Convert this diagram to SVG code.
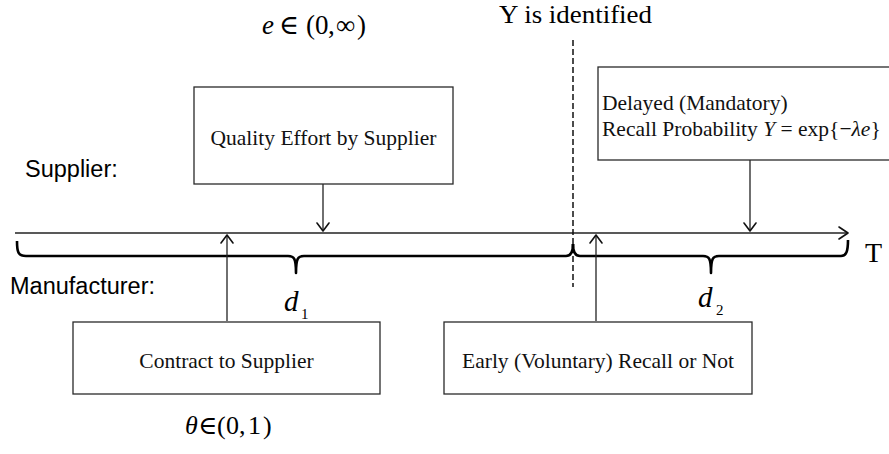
<svg xmlns="http://www.w3.org/2000/svg" width="889" height="454" viewBox="0 0 889 454">
  <defs>
    <style>
      .box { fill: #ffffff; stroke: #2a2a2a; stroke-width: 1.3; }
      .lbl { font-family: "Liberation Serif", "Times New Roman", serif; font-size: 21.5px; fill: #111111; }
      .side { font-family: "Liberation Sans", Arial, sans-serif; font-size: 23.5px; fill: #000000; }
      .math { font-family: "Liberation Serif", "DejaVu Serif", serif; fill: #000000; }
      .conn { fill: none; stroke: #222222; stroke-width: 1.3; }
      .head { fill: none; stroke: #111111; stroke-width: 1.6; stroke-linecap: round; stroke-linejoin: round; }
      .brace { fill: none; stroke: #000000; stroke-width: 2.6; stroke-linejoin: round; }
    </style>
  </defs>

  <!-- side labels -->
  <text class="side" x="25" y="177">Supplier:</text>
  <text class="side" x="10" y="294">Manufacturer:</text>

  <!-- top annotations -->
  <text class="math" x="499" y="23" font-size="25.5" textLength="153" lengthAdjust="spacingAndGlyphs">Y is identified</text>
  <text class="math" y="34" font-size="27"><tspan x="262" font-style="italic">e</tspan><tspan x="279">∈</tspan><tspan x="306">(</tspan><tspan x="315">0</tspan><tspan x="328">,</tspan><tspan x="336">∞</tspan><tspan x="357">)</tspan></text>
  <text class="math" y="434" font-size="26"><tspan x="185" font-style="italic">θ</tspan><tspan x="198">∈</tspan><tspan x="217">(</tspan><tspan x="226">0</tspan><tspan x="239">,</tspan><tspan x="248">1</tspan><tspan x="263">)</tspan></text>
  <text class="math" x="865" y="262" font-size="28">T</text>

  <!-- durations under the braces -->
  <text class="math" x="284" y="311" font-size="29"><tspan font-style="italic">d</tspan><tspan x="301" y="319" font-size="15">1</tspan></text>
  <text class="math" x="698" y="307" font-size="29"><tspan font-style="italic">d</tspan><tspan x="716" y="315" font-size="15">2</tspan></text>

  <!-- connectors -->
  <g id="connectors">
    <!-- time axis -->
    <line class="conn" x1="15" y1="233" x2="848" y2="233" stroke="#444444" stroke-width="1.6"/>
    <polyline class="head" points="839,227 848,233 839,239"/>
    <!-- identification moment -->
    <line x1="573" y1="40" x2="573" y2="287" stroke="#111111" stroke-width="1.5" stroke-dasharray="6,3"/>
    <!-- braces for d1 and d2 -->
    <path class="brace" d="M17,241 C17,252 18,256 26,256 L288,256 C294,256 296,258 296,273 C296,258 298,256 304,256 L566,256 C571,256 573,252 573,244"/>
    <path class="brace" d="M573,244 C573,252 575,256 580,256 L703,256 C709,256 711,258 711,273 C711,258 713,256 719,256 L841,256 C846,256 848,252 848,240"/>
    <!-- box to axis arrows -->
    <line class="conn" x1="227" y1="321" x2="227" y2="235"/>
    <polyline class="head" points="221,243 227,235 233,243"/>
    <line class="conn" x1="596" y1="321" x2="596" y2="235"/>
    <polyline class="head" points="590,243 596,235 602,243"/>
    <line class="conn" x1="323" y1="184" x2="323" y2="231"/>
    <polyline class="head" points="317,223 323,231 329,223"/>
    <line class="conn" x1="750" y1="160" x2="750" y2="231"/>
    <polyline class="head" points="744,223 750,231 756,223"/>
  </g>

  <g id="quality-effort">
    <rect class="box" x="194" y="87" width="259" height="97"/>
    <text class="lbl" x="323.5" y="145" text-anchor="middle">Quality Effort by Supplier</text>
  </g>

  <g id="delayed-recall">
    <rect class="box" x="598" y="67" width="304" height="93"/>
    <text class="lbl" x="602" y="110">Delayed (Mandatory)</text>
    <text class="lbl" x="602" y="136">Recall Probability  <tspan font-style="italic">Y</tspan> = exp{−<tspan font-style="italic">λe</tspan>}</text>
  </g>

  <g id="contract">
    <rect class="box" x="73" y="322" width="307" height="72"/>
    <text class="lbl" x="226.5" y="368" text-anchor="middle">Contract to Supplier</text>
  </g>

  <g id="early-recall">
    <rect class="box" x="444" y="322" width="308" height="72"/>
    <text class="lbl" x="598" y="368" text-anchor="middle">Early (Voluntary) Recall or Not</text>
  </g>
</svg>
